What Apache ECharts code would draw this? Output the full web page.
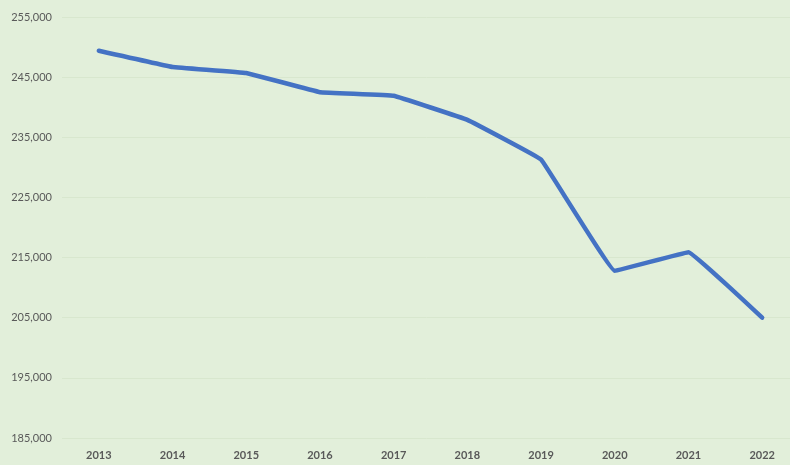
<!DOCTYPE html>
<html>
<head>
<meta charset="utf-8">
<script src="https://cdn.jsdelivr.net/npm/echarts@6/dist/echarts.min.js"></script>
<style>
html,body{margin:0;padding:0;background:#e2efda;}
#chart{width:790px;height:465px;}
</style>
</head>
<body>
<div id="chart"></div>
<script>
var years = ['2013','2014','2015','2016','2017','2018','2019','2020','2021','2022'];
var values = [249400, 246700, 245700, 242500, 241900, 237900, 231300, 212800, 215900, 205000];
var yMin = 185000, yMax = 255000, yStep = 10000;

var chart = echarts.init(document.getElementById('chart'));
chart.setOption({
  backgroundColor: '#e2efda',
  animation: false,
  grid: {left: 62, right: -9, top: 17, bottom: 27, outerBoundsMode: 'none', containLabel: false},
  xAxis: {
    type: 'category',
    data: years,
    boundaryGap: true,
    axisLine: {show: false},
    axisTick: {show: false},
    axisLabel: {color: '#595959', fontFamily: 'Lato', fontWeight: 'bold', fontSize: 11, margin: 12}
  },
  yAxis: {
    type: 'value',
    min: yMin, max: yMax, interval: yStep,
    axisLine: {show: false},
    axisTick: {show: false},
    splitLine: {lineStyle: {color: '#d8e7ce', width: 1}},
    axisLabel: {
      color: '#595959', fontFamily: 'Lato', fontSize: 11, margin: 10,
      formatter: function (v) { return v.toLocaleString('en-US'); }
    }
  },
  series: [{
    type: 'line',
    data: values,
    smooth: 0.05,
    symbol: 'none',
    lineStyle: {color: '#4472c4', width: 4.5, join: 'round', cap: 'round'}
  }]
});
</script>
</body>
</html>
